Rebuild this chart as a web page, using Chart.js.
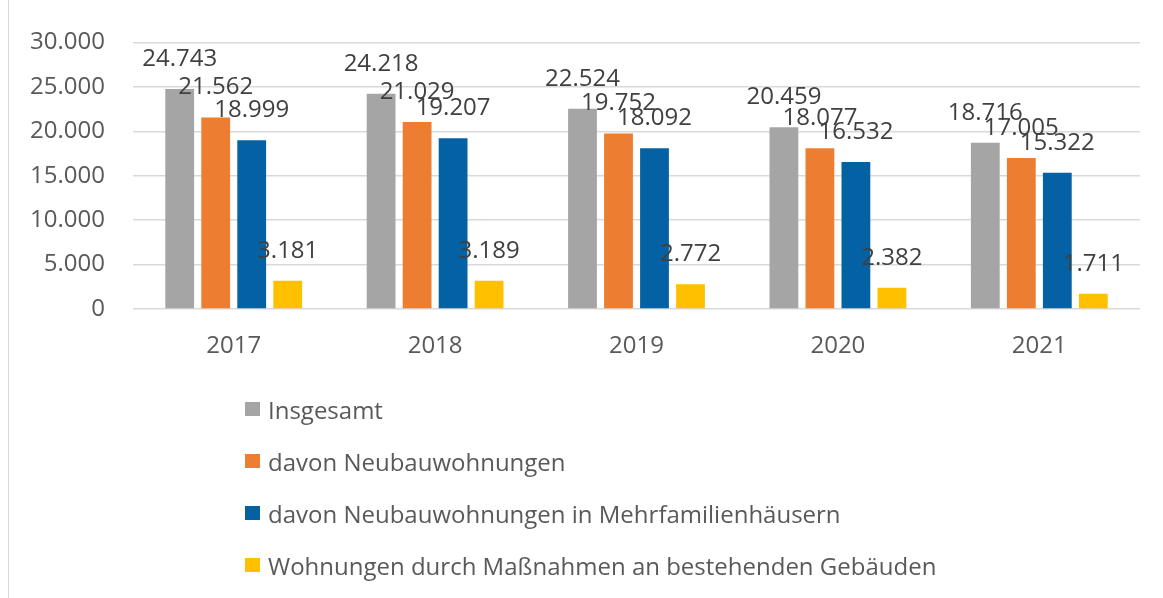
<!DOCTYPE html>
<html>
<head>
<meta charset="utf-8">
<script src="https://cdn.jsdelivr.net/npm/chart.js@4/dist/chart.umd.min.js"></script>
<style>
  html, body { margin: 0; padding: 0; background: #fff; }
  #wrap { position: relative; width: 1163px; height: 598px; overflow: hidden; }
  #frame { position: absolute; left: 8px; top: 0; width: 0; height: 598px; border-left: 1px solid #d9d9d9; }
  #legend { position: absolute; left: 245px; top: 383px; font-family: "Open Sans", sans-serif; font-size: 24px; color: #595959; }
  #legend .item { height: 52px; display: flex; align-items: center; white-space: nowrap; }
  #legend .box { width: 15px; height: 14px; margin-right: 8px; }
</style>
</head>
<body>
<div id="wrap">
  <canvas id="chart" width="1163" height="598"></canvas>
  <div id="frame"></div>
  <div id="legend"></div>
</div>
<script>
const years = ['2017', '2018', '2019', '2020', '2021'];
const seriesNames = [
  'Insgesamt',
  'davon Neubauwohnungen',
  'davon Neubauwohnungen in Mehrfamilienhäusern',
  'Wohnungen durch Maßnahmen an bestehenden Gebäuden'
];
const insgesamt = [24743, 24218, 22524, 20459, 18716];
const neubau = [21562, 21029, 19752, 18077, 17005];
const mehrfamilien = [18999, 19207, 18092, 16532, 15322];
const bestand = [3181, 3189, 2772, 2382, 1711];
const colors = ['#a5a5a5', '#ed7d31', '#0461a3', '#ffc000'];

function fmt(v) {
  return String(v).replace(/\B(?=(\d{3})+(?!\d))/g, '.');
}

// draw the value above each bar
const valueLabels = {
  id: 'valueLabels',
  afterDatasetsDraw(chart) {
    const ctx = chart.ctx;
    ctx.save();
    ctx.font = '24px "Open Sans", sans-serif';
    ctx.fillStyle = '#404040';
    ctx.textAlign = 'center';
    ctx.textBaseline = 'middle';
    chart.data.datasets.forEach((ds, i) => {
      chart.getDatasetMeta(i).data.forEach((bar, j) => {
        ctx.fillText(fmt(ds.data[j]), bar.x, bar.y - 30);
      });
    });
    ctx.restore();
  }
};

const allSeries = [insgesamt, neubau, mehrfamilien, bestand];

const chart = new Chart(document.getElementById('chart'), {
  type: 'bar',
  data: {
    labels: years,
    datasets: allSeries.map((d, i) => ({
      label: seriesNames[i],
      data: d,
      backgroundColor: colors[i],
      categoryPercentage: 0.715,
      barPercentage: 0.8
    }))
  },
  options: {
    responsive: false,
    animation: false,
    layout: { padding: { top: 41, right: 23, left: 0, bottom: 0 } },
    plugins: {
      legend: { display: false },
      tooltip: { enabled: false }
    },
    scales: {
      x: {
        grid: { display: false, drawTicks: false },
        border: { display: false },
        ticks: { color: '#595959', font: { family: 'Open Sans', size: 24 }, padding: 23 },
        afterFit(scale) { scale.height = 289; }
      },
      y: {
        min: 0,
        max: 30000,
        ticks: {
          stepSize: 5000,
          color: '#595959',
          font: { family: 'Open Sans', size: 24 },
          padding: 28,
          callback: v => fmt(v)
        },
        grid: { color: '#d9d9d9', lineWidth: 1.5, drawTicks: false },
        border: { display: false },
        afterFit(scale) { scale.width = 133; }
      }
    }
  },
  plugins: [valueLabels]
});

const legend = document.getElementById('legend');
chart.data.datasets.forEach(ds => {
  const item = document.createElement('div');
  item.className = 'item';
  const box = document.createElement('span');
  box.className = 'box';
  box.style.background = ds.backgroundColor;
  const txt = document.createElement('span');
  txt.textContent = ds.label;
  item.appendChild(box);
  item.appendChild(txt);
  legend.appendChild(item);
});
</script>
</body>
</html>
